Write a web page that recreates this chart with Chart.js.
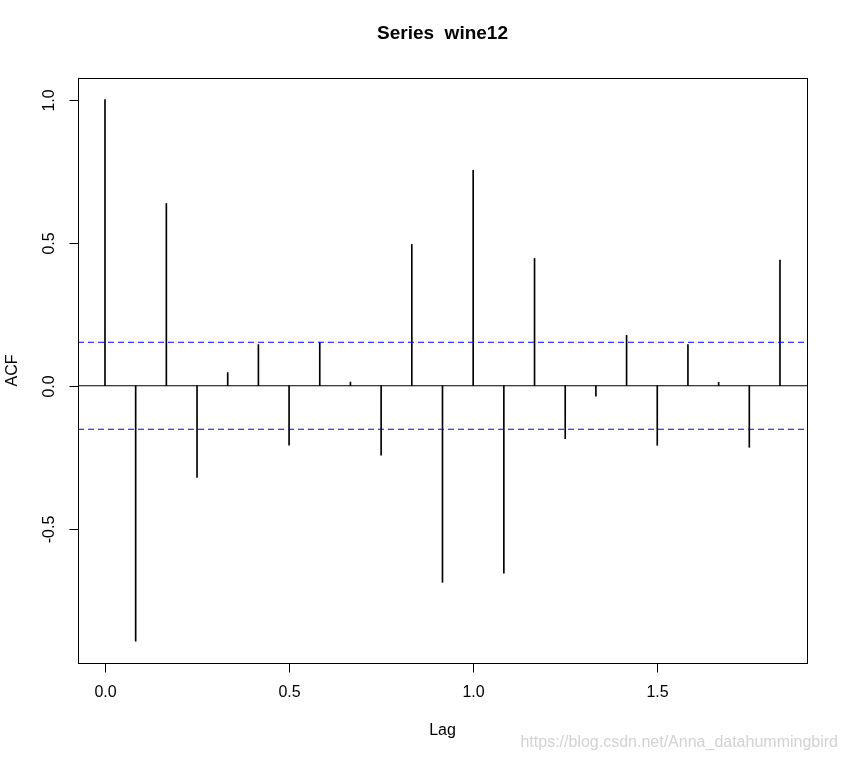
<!DOCTYPE html>
<html>
<head>
<meta charset="utf-8">
<script src="https://cdn.jsdelivr.net/npm/chart.js@4.4.1/dist/chart.umd.min.js"></script>
<style>
    html, body { margin: 0; padding: 0; background: #fff; }
    canvas { display: block; }
</style>
</head>
<body>
<canvas id="acf-chart" width="848" height="761"></canvas>
<script>
// ACF values of wine12, lag in years (lag k = k/12)
const lagSteps = [0, 1, 2, 3, 4, 5, 6, 7, 8, 9, 10, 11, 12, 13, 14, 15, 16, 17, 18, 19, 20, 21, 22];
const acfValues = [1.000, -0.893, 0.637, -0.320, 0.046, 0.144, -0.208, 0.152, 0.013, -0.243, 0.494, -0.687,
    0.753, -0.655, 0.445, -0.185, -0.036, 0.176, -0.208, 0.144, 0.012, -0.215, 0.439];
const ciLevel = 0.152;
const xTicks = [0, 0.5, 1.0, 1.5];
const yTicks = [-0.5, 0, 0.5, 1.0];
const xRange = [-0.0733, 1.9067];
const yRange = [-0.969, 1.0757];

const font = '"Liberation Sans", Arial, sans-serif';

const lagPoints = lagSteps.map((k, i) => ({ x: k / 12, y: acfValues[i] }));
const hLine = v => [{ x: xRange[0], y: v }, { x: xRange[1], y: v }];

// R style box, ticks and labels
const rAxes = {
    id: 'rAxes',
    afterDraw(chart) {
        const { ctx, chartArea: a, scales } = chart;
        ctx.save();
        ctx.strokeStyle = '#000';
        ctx.lineWidth = 1;
        ctx.strokeRect(Math.round(a.left) + 0.5, Math.round(a.top) + 0.5,
            Math.round(a.right - a.left), Math.round(a.bottom - a.top));

        ctx.fillStyle = '#000';
        ctx.font = '16px ' + font;
        ctx.textAlign = 'center';
        ctx.textBaseline = 'middle';
        const bottom = Math.round(a.bottom) + 0.5;
        xTicks.forEach(t => {
            const x = Math.round(scales.x.getPixelForValue(t)) + 0.5;
            ctx.beginPath();
            ctx.moveTo(x, bottom);
            ctx.lineTo(x, bottom + 9);
            ctx.stroke();
            ctx.fillText(t.toFixed(1), x, a.bottom + 30);
        });
        const left = Math.round(a.left) + 0.5;
        yTicks.forEach(t => {
            const y = Math.round(scales.y.getPixelForValue(t)) + 0.5;
            ctx.beginPath();
            ctx.moveTo(left, y);
            ctx.lineTo(left - 9, y);
            ctx.stroke();
            ctx.save();
            ctx.translate(a.left - 28, y);
            ctx.rotate(-Math.PI / 2);
            ctx.fillText(t.toFixed(1), 0, 0);
            ctx.restore();
        });

        const cx = (a.left + a.right) / 2;
        ctx.fillText('Lag', cx, 731);
        ctx.save();
        ctx.translate(13, (a.top + a.bottom) / 2);
        ctx.rotate(-Math.PI / 2);
        ctx.fillText('ACF', 0, 0);
        ctx.restore();

        ctx.font = 'bold 19px ' + font;
        ctx.fillText('Series  wine12', cx, 34);

        ctx.font = '16px ' + font;
        ctx.fillStyle = '#d2d2d2';
        ctx.textAlign = 'right';
        ctx.fillText('https://blog.csdn.net/Anna_datahummingbird', 838, 743);
        ctx.restore();
    }
};

new Chart(document.getElementById('acf-chart').getContext('2d'), {
    type: 'bar',
    data: {
        datasets: [
            {
                type: 'line',
                data: hLine(ciLevel),
                borderColor: '#0000ff',
                borderWidth: 1,
                borderDash: [6, 4],
                pointRadius: 0
            },
            {
                type: 'line',
                data: hLine(-ciLevel),
                borderColor: '#0000ff',
                borderWidth: 1,
                borderDash: [6, 4],
                pointRadius: 0
            },
            {
                type: 'line',
                data: hLine(0),
                borderColor: '#000',
                borderWidth: 1,
                pointRadius: 0
            },
            {
                type: 'bar',
                data: lagPoints,
                backgroundColor: '#000',
                barThickness: 1,
                grouped: false
            }
        ]
    },
    options: {
        responsive: false,
        animation: false,
        layout: { padding: { left: 78, top: 78, right: 41, bottom: 98 } },
        plugins: { legend: { display: false }, tooltip: { enabled: false } },
        scales: {
            x: { type: 'linear', offset: false, min: xRange[0], max: xRange[1], display: false },
            y: { type: 'linear', min: yRange[0], max: yRange[1], display: false }
        }
    },
    plugins: [rAxes]
});
</script>
</body>
</html>
